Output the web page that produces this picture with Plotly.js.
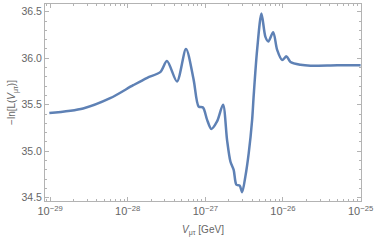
<!DOCTYPE html>
<html><head><meta charset="utf-8">
<script src="https://cdn.plot.ly/plotly-3.0.1.min.js"></script>
<style>html,body{margin:0;padding:0;background:#fff}#plot{width:374px;height:240px}</style>
</head><body><div id="plot"></div>
<script>
// log10 of V_mu_tau [GeV]
const logV = [-29.009,-28.574,-28.226,-27.929,-27.748,-27.581,-27.494,-27.365,-27.249,-27.151,-27.086,-27.030,-26.978,-26.923,-26.849,-26.772,-26.720,-26.677,-26.635,-26.600,-26.557,-26.526,-26.484,-26.441,-26.397,-26.377,-26.333,-26.277,-26.226,-26.188,-26.126,-26.075,-26.010,-25.955,-25.903,-25.774,-25.645,-25.3,-25.0];
// -ln L
const negLnL = [35.41,35.46,35.57,35.71,35.79,35.85,35.97,35.75,36.10,35.77,35.48,35.47,35.34,35.24,35.32,35.50,35.12,34.89,34.80,34.64,34.63,34.56,34.73,34.98,35.34,35.60,36.09,36.48,36.23,36.18,36.28,36.09,35.98,36.02,35.96,35.93,35.92,35.925,35.925];
const xTickVals = [1e-29,1e-28,1e-27,1e-26,1e-25];
const xTickText = ['10<sup>−29</sup>','10<sup>−28</sup>','10<sup>−27</sup>','10<sup>−26</sup>','10<sup>−25</sup>'];
const yTickVals = [34.5,35.0,35.5,36.0,36.5];
const yTickText = ['34.5','35.0','35.5','36.0','36.5'];

const V = logV.map(e => Math.pow(10, e));
const grey = '#b3b3b3';
const txt = '#666666';
Plotly.newPlot('plot', [{
  x: V, y: negLnL, type: 'scatter', mode: 'lines',
  line: {color: '#5E81B5', width: 2.5, shape: 'spline', smoothing: 0.8}
}], {
  width: 374, height: 240,
  margin: {l: 45, r: 13, t: 4, b: 39},
  paper_bgcolor: '#fff', plot_bgcolor: '#fff',
  font: {family: 'Liberation Sans, Arial, sans-serif', size: 10, color: txt},
  showlegend: false,
  xaxis: {
    type: 'log', range: [-29.065, -24.995],
    tickvals: xTickVals, ticktext: xTickText, tickfont: {size: 11, color: txt},
    ticks: 'inside', ticklen: 4, tickcolor: grey, showline: true, linecolor: grey, linewidth: 1,
    mirror: 'ticks', showgrid: false, zeroline: false,
    minor: {dtick: 'D1', ticks: 'inside', ticklen: 2, tickcolor: grey, showgrid: false},
    title: {text: '<i>V</i><sub>μτ</sub> [GeV]', font: {size: 10, color: txt}, standoff: 9}
  },
  yaxis: {
    range: [34.465, 36.583], tickvals: yTickVals, ticktext: yTickText, tickfont: {size: 10.5, color: txt},
    ticks: 'inside', ticklen: 4, tickcolor: grey, showline: true, linecolor: grey, linewidth: 1,
    mirror: 'ticks', showgrid: false, zeroline: false,
    minor: {dtick: 0.1, ticks: 'inside', ticklen: 2, tickcolor: grey, showgrid: false},
    title: {text: '−ln[L(<i>V</i><sub>μτ</sub>)]', font: {size: 10, color: txt}, standoff: 3}
  }
}, {staticPlot: true, displayModeBar: false});
</script></body></html>
